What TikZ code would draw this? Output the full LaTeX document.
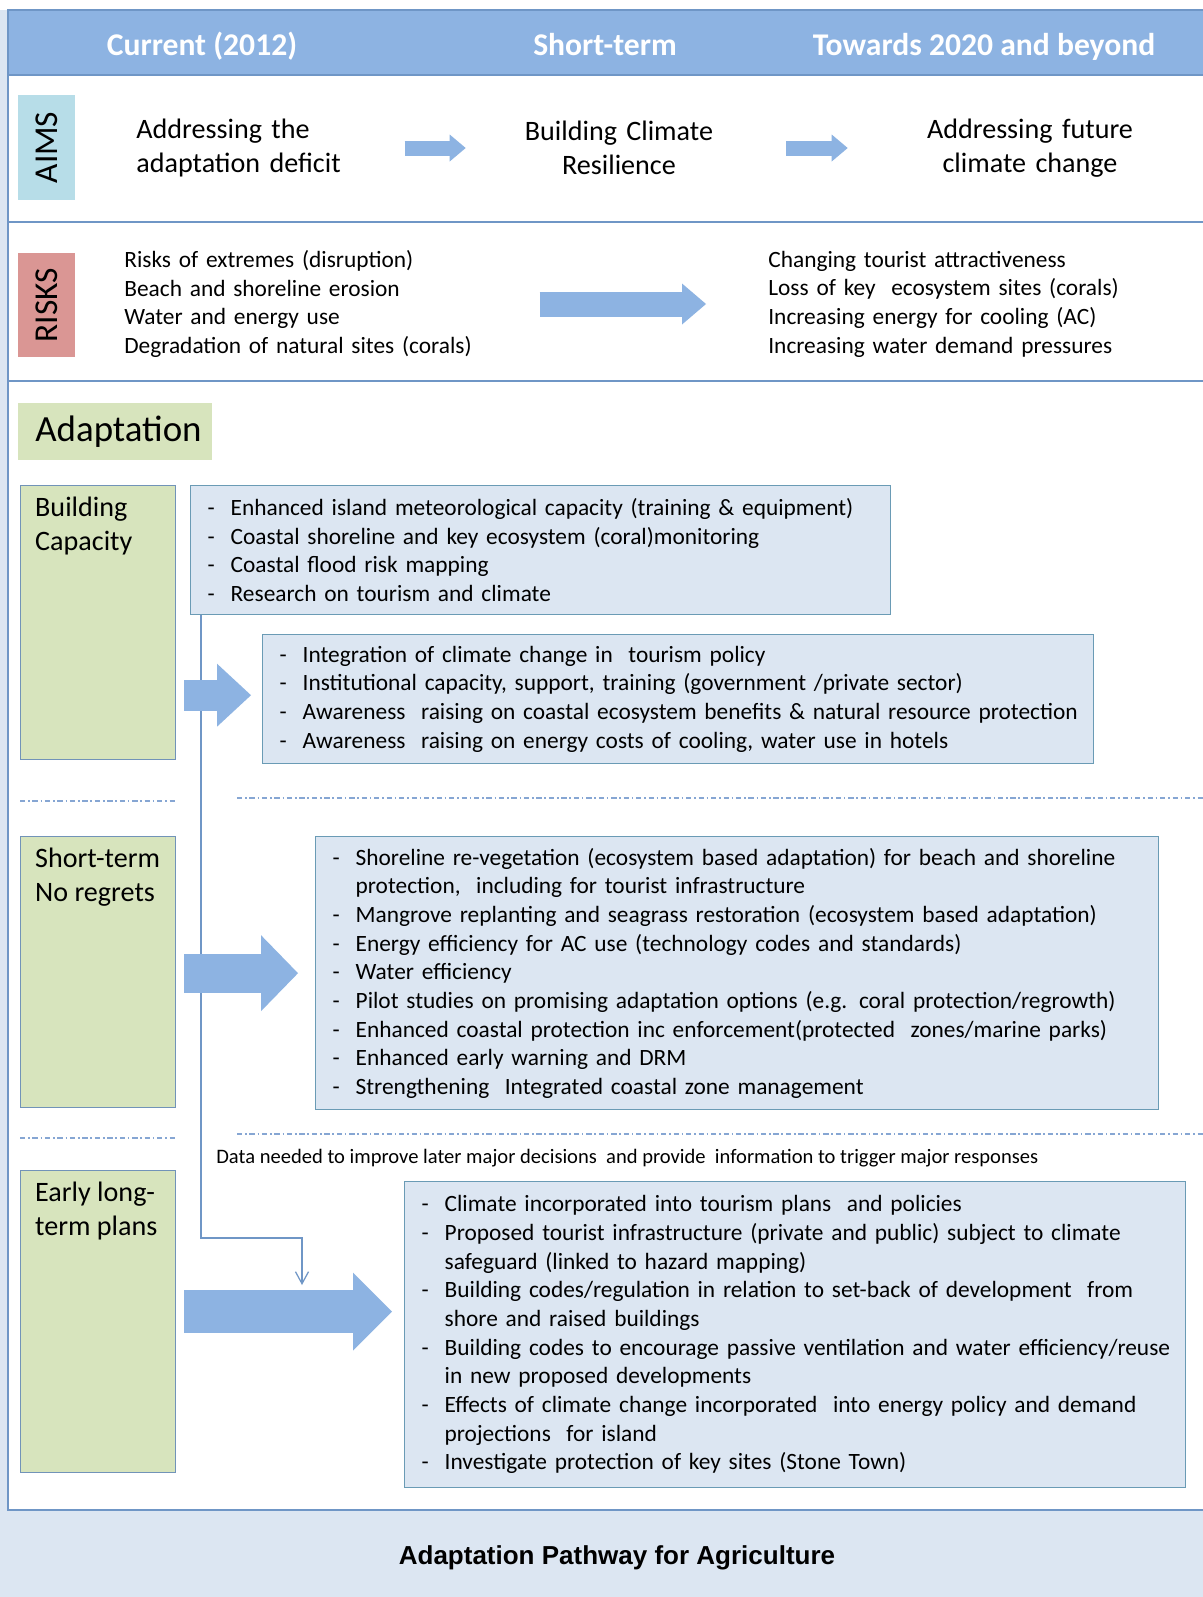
\documentclass[tikz,border=0pt]{standalone}
\usepackage{fontspec}
\setmainfont{Carlito}
\newfontfamily\captionfont{Liberation Sans}
\usepackage{xcolor}
\usepackage{tikz}
\usetikzlibrary{arrows.meta,positioning,calc}

\definecolor{headblue}{HTML}{8DB3E2}
\definecolor{frameblue}{HTML}{6F96C6}
\definecolor{aimscyan}{HTML}{B7DDE8}
\definecolor{riskred}{HTML}{DA9694}
\definecolor{stagegreen}{HTML}{D7E4BD}
\definecolor{stageedge}{HTML}{7193B8}
\definecolor{listblue}{HTML}{DCE6F2}
\definecolor{listedge}{HTML}{6A9BB5}
\definecolor{arrowblue}{HTML}{8DB3E2}
\definecolor{splitblue}{HTML}{86A6D3}
\definecolor{captionbg}{HTML}{DCE6F2}

\newcommand{\dashitem}[1]{\mbox{\makebox[0.46cm][l]{-}#1}}
\newcommand{\dashcont}[1]{\mbox{\hspace{0.46cm}#1}}

\begin{document}
\begin{tikzpicture}[x=0.02cm, y=-0.02cm,
    frameline/.style={draw=frameblue, line width=1pt},
    headtext/.style={anchor=base, text=white, font=\bfseries\fontsize{18}{21}\selectfont},
    sidelabel/.style={rotate=90, minimum width=2.1cm, minimum height=1.14cm, font=\fontsize{19}{22}\selectfont},
    aimtext/.style={inner sep=0, font=\fontsize{16}{19.6}\selectfont},
    risktext/.style={inner sep=0, anchor=west, align=left, text width=7.2cm, font=\fontsize{13.3}{16.3}\selectfont},
    stagebox/.style={draw=stageedge, line width=0.8pt, fill=stagegreen, anchor=north west, inner xsep=0.29cm, inner ysep=0.22cm, font=\fontsize{16}{19.3}\selectfont},
    listbox/.style={draw=listedge, line width=0.8pt, fill=listblue, anchor=north west, inner xsep=0.34cm, align=left, font=\fontsize{13.3}{16.3}\selectfont},
    blockarrow/.style={draw=arrowblue},
    splitline/.style={draw=splitblue, line width=0.8pt, dash pattern=on 3pt off 1.6pt on 0.9pt off 1.6pt},
    datalink/.style={draw=frameblue, line width=0.7pt, -{Straight Barb[length=0.24cm, width=0.26cm]}}]

    \useasboundingbox (0,0) rectangle (1203,1597);
    \fill[white] (0,0) rectangle (1203,1597);
    \fill[captionbg] (0,10) rectangle (8,1597);
    \fill[captionbg] (0,1510) rectangle (1203,1597);
    \fill[headblue] (8,10) rectangle (1203,75);
    \draw[frameline] (1203,10) -- (8,10) -- (8,1510) -- (1203,1510);
    \draw[frameline] (8,75) -- (1203,75);
    \draw[frameline] (8,222) -- (1203,222);
    \draw[frameline] (8,381) -- (1203,381);

    \node[headtext] (hcur) at (202,55) {Current (2012)};
    \node[headtext] (hshort) at (605,55) {Short-term};
    \node[headtext] (hlong) at (984,55) {Towards 2020 and beyond};

    \node[sidelabel, fill=aimscyan] (aims) at (46.5,147.5) {AIMS};
    \node[aimtext, anchor=west, align=left, text width=4.2cm] (aim1) at (136,148) {Addressing the\\adaptation deficit};
    \node[aimtext, align=center, text width=3.8cm] (aim2) at (619,148) {Building Climate\\Resilience};
    \node[aimtext, align=center, text width=4.4cm] (aim3) at (1030,148) {Addressing future\\climate change};

    \node[sidelabel, fill=riskred] (risks) at (46.5,305) {RISKS};
    \node[risktext] (risknow) at (124,304) {Risks of extremes (disruption)\\Beach and shoreline erosion\\Water and energy use\\Degradation of natural sites (corals)};
    \node[risktext] (risklater) at (768,304) {Changing tourist attractiveness\\Loss of key\ \ ecosystem sites (corals)\\Increasing energy for cooling (AC)\\Increasing water demand pressures};

    \node[anchor=north west, fill=stagegreen, minimum height=1.14cm, text width=3.2cm, inner xsep=0.34cm, font=\fontsize{21}{24}\selectfont] (adapt) at (18,403) {Adaptation};

    \node[stagebox, minimum width=3.1cm] (stage1) at (20,485) {\parbox[t][5.04cm][t]{2.52cm}{Building\\Capacity}};
    \node[stagebox, minimum width=3.1cm] (stage2) at (20,836) {\parbox[t][4.98cm][t]{2.52cm}{Short-term\\No regrets}};
    \node[stagebox, minimum width=3.1cm] (stage3) at (20,1170) {\parbox[t][5.6cm][t]{2.52cm}{Early long-\\term plans}};

    \node[listbox, text width=13.32cm, minimum height=2.58cm] (list1) at (190,485) {%
        \dashitem{Enhanced island meteorological capacity (training \& equipment)}\\
        \dashitem{Coastal shoreline and key ecosystem (coral)monitoring}\\
        \dashitem{Coastal flood risk mapping}\\
        \dashitem{Research on tourism and climate}};
    \node[listbox, text width=15.94cm, minimum height=2.58cm] (list2) at (262,634) {%
        \dashitem{Integration of climate change in\ \ tourism policy}\\
        \dashitem{Institutional capacity, support, training (government /private sector)}\\
        \dashitem{Awareness\ \ raising on coastal ecosystem benefits \& natural resource protection}\\
        \dashitem{Awareness\ \ raising on energy costs of cooling, water use in hotels}};
    \node[listbox, text width=16.18cm, minimum height=5.46cm] (list3) at (315,836) {%
        \dashitem{Shoreline re-vegetation (ecosystem based adaptation) for beach and shoreline}\\
        \dashcont{protection,\ \ including for tourist infrastructure}\\
        \dashitem{Mangrove replanting and seagrass restoration (ecosystem based adaptation)}\\
        \dashitem{Energy efficiency for AC use (technology codes and standards)}\\
        \dashitem{Water efficiency}\\
        \dashitem{Pilot studies on promising adaptation options (e.g. coral protection/regrowth)}\\
        \dashitem{Enhanced coastal protection inc enforcement(protected\ \ zones/marine parks)}\\
        \dashitem{Enhanced early warning and DRM}\\
        \dashitem{Strengthening\ \ Integrated coastal zone management}};
    \node[listbox, text width=14.94cm, minimum height=6.12cm] (list4) at (404,1181) {%
        \dashitem{Climate incorporated into tourism plans\ \ and policies}\\
        \dashitem{Proposed tourist infrastructure (private and public) subject to climate}\\
        \dashcont{safeguard (linked to hazard mapping)}\\
        \dashitem{Building codes/regulation in relation to set-back of development\ \ from}\\
        \dashcont{shore and raised buildings}\\
        \dashitem{Building codes to encourage passive ventilation and water efficiency/reuse}\\
        \dashcont{in new proposed developments}\\
        \dashitem{Effects of climate change incorporated\ \ into energy policy and demand}\\
        \dashcont{projections\ \ for island}\\
        \dashitem{Investigate protection of key sites (Stone Town)}};

    \draw[splitline] (20,801) -- (175,801);
    \draw[splitline] (237,798) -- (1203,798);
    \draw[splitline] (20,1138) -- (175,1138);
    \draw[splitline] (237,1134) -- (1203,1134);

    \node[anchor=west, inner sep=0, font=\fontsize{11.7}{14}\selectfont] (datanote) at (216,1158) {Data needed to improve later major decisions\ \ and provide\ \ information to trigger major responses};

    \coordinate (databend) at (201,1238);
    \coordinate (datain) at (302,1285);
    \draw[datalink] (list1.south west -| databend) -- (databend) -| (datain);

    \draw[blockarrow, line width=0.3cm, -{Triangle[length=0.32cm, width=0.54cm, line width=0pt]}, shorten <=1.16cm, shorten >=1.16cm] (aim1.east) -- (aim2.west);
    \draw[blockarrow, line width=0.3cm, -{Triangle[length=0.32cm, width=0.54cm, line width=0pt]}, shorten <=1.44cm, shorten >=1.44cm] (aim2.east) -- (aim3.west);
    \draw[blockarrow, line width=0.5cm, -{Triangle[length=0.48cm, width=0.82cm, line width=0pt]}, shorten <=1.1cm, shorten >=1.24cm] (risknow.east) -- (risklater.west);

    \coordinate (bcin) at ([yshift=0.08cm]list2.west);
    \draw[blockarrow, line width=0.62cm, -{Triangle[length=0.68cm, width=1.26cm, line width=0pt]}, shorten <=0.16cm, shorten >=0.22cm] (stage1.east |- bcin) -- (bcin);
    \draw[blockarrow, line width=0.78cm, -{Triangle[length=0.74cm, width=1.52cm, line width=0pt]}, shorten <=0.16cm, shorten >=0.34cm] (stage2.east |- list3.west) -- (list3.west);
    \coordinate (ltin) at ([yshift=0.46cm]list4.west);
    \draw[blockarrow, line width=0.86cm, -{Triangle[length=0.78cm, width=1.56cm, line width=0pt]}, shorten <=0.16cm, shorten >=0.24cm] (stage3.east |- ltin) -- (ltin);

    \node[font=\captionfont\bfseries\fontsize{14.8}{17}\selectfont] (caption) at (617,1558) {Adaptation Pathway for Agriculture};
\end{tikzpicture}
\end{document}
